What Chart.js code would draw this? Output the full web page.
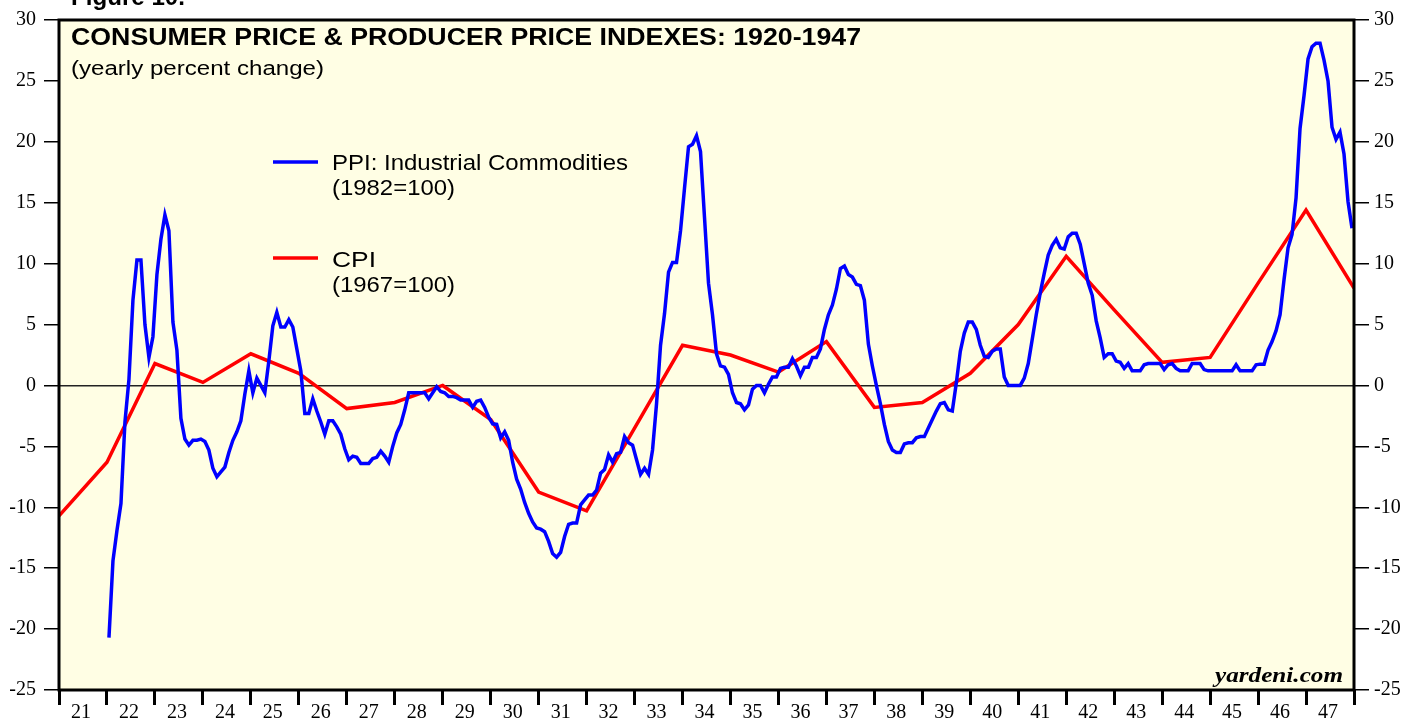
<!DOCTYPE html>
<html>
<head>
<meta charset="utf-8">
<script src="https://cdn.jsdelivr.net/npm/chart.js@4.4.1/dist/chart.umd.min.js"></script>
<style>
  html, body { margin: 0; padding: 0; background: #fff; }
  canvas { display: block; }
</style>
</head>
<body>
<canvas id="chart" width="1419" height="719"></canvas>
<script>
// annual CPI, yearly % change, plotted at January of each year
const cpiYears = [1921, 1922, 1923, 1924, 1925, 1926, 1927, 1928, 1929, 1930, 1931, 1932, 1933, 1934,
  1935, 1936, 1937, 1938, 1939, 1940, 1941, 1942, 1943, 1944, 1945, 1946, 1947, 1948];
const cpiValues = [-10.7, -6.3, 1.8, 0.25, 2.6, 1.0, -1.9, -1.4, 0.0, -2.8, -8.75, -10.3, -3.5, 3.3,
  2.5, 1.1, 3.6, -1.8, -1.4, 1.0, 5.0, 10.6, 6.2, 1.9, 2.3, 8.4, 14.4, 8.0];

// monthly PPI industrial commodities, yearly % change, Jan 1922 .. Dec 1947
const ppiStartYear = 1922;
const ppiMonthly = [
  -20.7, -14.4, -11.9, -9.7, -3.0, 0.5, 7.0, 10.3, 10.3, 5.0, 2.3, 4.0,     // 1922
  9.1, 12.0, 14.0, 12.7, 5.2, 2.9, -2.7, -4.4, -4.9, -4.5, -4.5, -4.4,      // 1923
  -4.6, -5.3, -6.8, -7.5, -7.1, -6.7, -5.5, -4.5, -3.8, -2.9, -0.7, 1.2,    // 1924
  -0.6, 0.6, 0.0, -0.6, 2.0, 4.9, 6.0, 4.8, 4.8, 5.4, 4.8, 3.0,             // 1925
  1.2, -2.3, -2.3, -1.1, -2.1, -3.0, -4.0, -2.9, -2.9, -3.4, -4.0, -5.2,    // 1926
  -6.1, -5.8, -5.9, -6.4, -6.4, -6.4, -6.0, -5.9, -5.4, -5.8, -6.3, -5.0,   // 1927
  -3.9, -3.2, -2.0, -0.6, -0.6, -0.6, -0.6, -0.6, -1.1, -0.6, -0.1, -0.5,   // 1928
  -0.6, -0.9, -0.9, -1.0, -1.2, -1.2, -1.2, -1.8, -1.3, -1.2, -1.8, -2.6,   // 1929
  -3.15, -3.2, -4.3, -3.8, -4.5, -6.3, -7.7, -8.5, -9.6, -10.5, -11.2, -11.7, // 1930
  -11.8, -12.0, -12.8, -13.8, -14.1, -13.7, -12.4, -11.4, -11.3, -11.3, -9.8, -9.4, // 1931
  -9.0, -9.0, -8.6, -7.2, -6.9, -5.7, -6.3, -5.6, -5.5, -4.2, -4.7, -4.9,   // 1932
  -6.1, -7.3, -6.8, -7.3, -5.3, -1.5, 3.3, 5.9, 9.3, 10.1, 10.1, 12.7,      // 1933
  16.2, 19.6, 19.8, 20.5, 19.2, 13.8, 8.4, 5.8, 2.6, 1.6, 1.5, 0.9,         // 1934
  -0.6, -1.4, -1.5, -2.0, -1.6, -0.3, 0.0, 0.0, -0.6, 0.1, 0.7, 0.7,        // 1935
  1.4, 1.5, 1.5, 2.2, 1.6, 0.8, 1.5, 1.5, 2.3, 2.3, 3.0, 4.6,               // 1936
  5.8, 6.6, 7.9, 9.6, 9.8, 9.1, 8.9, 8.3, 8.2, 7.0, 3.4, 1.6,               // 1937
  0.0, -1.5, -3.2, -4.6, -5.3, -5.5, -5.5, -4.8, -4.7, -4.7, -4.3, -4.2,    // 1938
  -4.2, -3.5, -2.8, -2.1, -1.5, -1.4, -2.0, -2.1, 0.2, 2.8, 4.3, 5.2,       // 1939
  5.2, 4.6, 3.3, 2.4, 2.3, 2.8, 3.0, 3.0, 0.7, 0.0, 0.0, 0.0,               // 1940
  0.0, 0.6, 1.8, 3.8, 5.8, 7.6, 9.2, 10.7, 11.5, 12.0, 11.3, 11.2,          // 1941
  12.2, 12.5, 12.5, 11.6, 10.0, 8.4, 7.4, 5.3, 3.9, 2.3, 2.6, 2.6,          // 1942
  2.0, 1.9, 1.4, 1.8, 1.2, 1.2, 1.2, 1.7, 1.8, 1.8, 1.8, 1.8,               // 1943
  1.3, 1.7, 1.8, 1.4, 1.2, 1.2, 1.2, 1.8, 1.8, 1.8, 1.3, 1.2,               // 1944
  1.2, 1.2, 1.2, 1.2, 1.2, 1.2, 1.7, 1.2, 1.2, 1.2, 1.2, 1.7,               // 1945
  1.75, 1.75, 2.9, 3.6, 4.5, 5.8, 8.7, 11.3, 12.4, 15.4, 21.1, 23.8,        // 1946
  26.8, 27.8, 28.1, 28.1, 26.7, 25.0, 21.2, 20.2, 20.8, 19.0, 15.1, 12.9    // 1947
];

const yTicks = [-25, -20, -15, -10, -5, 0, 5, 10, 15, 20, 25, 30];
const xTickYears = [1921, 1922, 1923, 1924, 1925, 1926, 1927, 1928, 1929, 1930, 1931, 1932, 1933, 1934,
  1935, 1936, 1937, 1938, 1939, 1940, 1941, 1942, 1943, 1944, 1945, 1946, 1947, 1948];

const COLORS = { ppi: '#0000ff', cpi: '#ff0000', panel: '#fffee4', ink: '#000000' };
const SANS = '"Liberation Sans", Arial, sans-serif';
const SERIF = '"Liberation Serif", "Times New Roman", serif';

const ppiPoints = ppiMonthly.map((v, i) => ({ x: ppiStartYear + (i + 0.5) / 12, y: v }));
const cpiPoints = cpiYears.map((yr, i) => ({ x: yr, y: cpiValues[i] }));

// text in the reference is a bit wider than the font, so squeeze/stretch to the measured width
function fitText(ctx, text, x, y, font, width) {
  ctx.save();
  ctx.font = font;
  const w = ctx.measureText(text).width;
  ctx.translate(x, y);
  ctx.scale(width / w, 1);
  ctx.fillText(text, 0, 0);
  ctx.restore();
}

const panelPlugin = {
  id: 'panel',
  beforeDraw(chart) {
    const { ctx, chartArea: a } = chart;
    ctx.save();
    ctx.fillStyle = '#ffffff';
    ctx.fillRect(0, 0, chart.width, chart.height);
    ctx.fillStyle = COLORS.panel;
    ctx.fillRect(a.left, a.top, a.right - a.left, a.bottom - a.top);
    ctx.restore();
  },
  afterDatasetsDraw(chart) {
    const { ctx, chartArea: a } = chart;
    ctx.save();
    ctx.strokeStyle = COLORS.ink;
    ctx.lineWidth = 3;
    ctx.strokeRect(a.left, a.top, a.right - a.left, a.bottom - a.top);

    ctx.fillStyle = COLORS.ink;
    ctx.textBaseline = 'alphabetic';
    fitText(ctx, 'Figure 10.', 71, 5, `bold 23px ${SANS}`, 114);
    fitText(ctx, 'CONSUMER PRICE & PRODUCER PRICE INDEXES: 1920-1947', 71, 45, `bold 23px ${SANS}`, 790);
    fitText(ctx, '(yearly percent change)', 71, 75, `20px ${SANS}`, 253);

    // legend
    ctx.lineWidth = 3.5;
    ctx.strokeStyle = COLORS.ppi;
    ctx.beginPath(); ctx.moveTo(273, 162); ctx.lineTo(318, 162); ctx.stroke();
    ctx.strokeStyle = COLORS.cpi;
    ctx.beginPath(); ctx.moveTo(273, 258); ctx.lineTo(318, 258); ctx.stroke();
    fitText(ctx, 'PPI: Industrial Commodities', 332, 170, `22px ${SANS}`, 296);
    fitText(ctx, '(1982=100)', 332, 195, `22px ${SANS}`, 123);
    fitText(ctx, 'CPI', 332, 267, `22px ${SANS}`, 44);
    fitText(ctx, '(1967=100)', 332, 292, `22px ${SANS}`, 123);

    fitText(ctx, 'yardeni.com', 1215, 682, `bold italic 20px ${SERIF}`, 128);
    ctx.restore();
  }
};

function yAxis(position, width, padding) {
  return {
    type: 'linear',
    position,
    min: -25,
    max: 30,
    afterBuildTicks: (scale) => { scale.ticks = yTicks.map((value) => ({ value })); },
    afterFit: (scale) => { scale.width = width; },
    ticks: { color: COLORS.ink, font: { family: SERIF, size: 20 }, padding },
    grid: {
      drawOnChartArea: position === 'left',
      color: (c) => (c.tick && c.tick.value === 0 ? '#222222' : 'rgba(0,0,0,0)'),
      lineWidth: 1.5,
      tickLength: 15,
      tickWidth: 1.5,
      tickColor: COLORS.ink
    },
    border: { display: false }
  };
}

new Chart(document.getElementById('chart'), {
  type: 'line',
  data: {
    datasets: [
      {
        label: 'PPI: Industrial Commodities',
        data: ppiPoints,
        borderColor: COLORS.ppi,
        borderWidth: 3.5,
        pointRadius: 0,
        tension: 0,
        order: 1
      },
      {
        label: 'CPI',
        data: cpiPoints,
        borderColor: COLORS.cpi,
        borderWidth: 3.5,
        pointRadius: 0,
        tension: 0,
        order: 2
      }
    ]
  },
  options: {
    responsive: false,
    animation: false,
    parsing: false,
    layout: { padding: { top: 18, left: 0, right: 0, bottom: 0 } },
    plugins: { legend: { display: false }, tooltip: { enabled: false } },
    scales: {
      x: {
        type: 'linear',
        min: 1921,
        max: 1948,
        afterBuildTicks: (scale) => { scale.ticks = xTickYears.map((value) => ({ value })); },
        afterFit: (scale) => { scale.height = 29; },
        ticks: {
          color: COLORS.ink,
          font: { family: SERIF, size: 20 },
          callback: (value) => (value < 1948 ? String(value).slice(2) : ''),
          labelOffset: 22,
          padding: -4,
          maxRotation: 0,
          autoSkip: false
        },
        grid: { drawOnChartArea: false, tickLength: 15, tickWidth: 3, tickColor: COLORS.ink },
        border: { display: false }
      },
      y: yAxis('left', 59, 8),
      y2: yAxis('right', 65, 5)
    }
  },
  plugins: [panelPlugin]
});
</script>
</body>
</html>
